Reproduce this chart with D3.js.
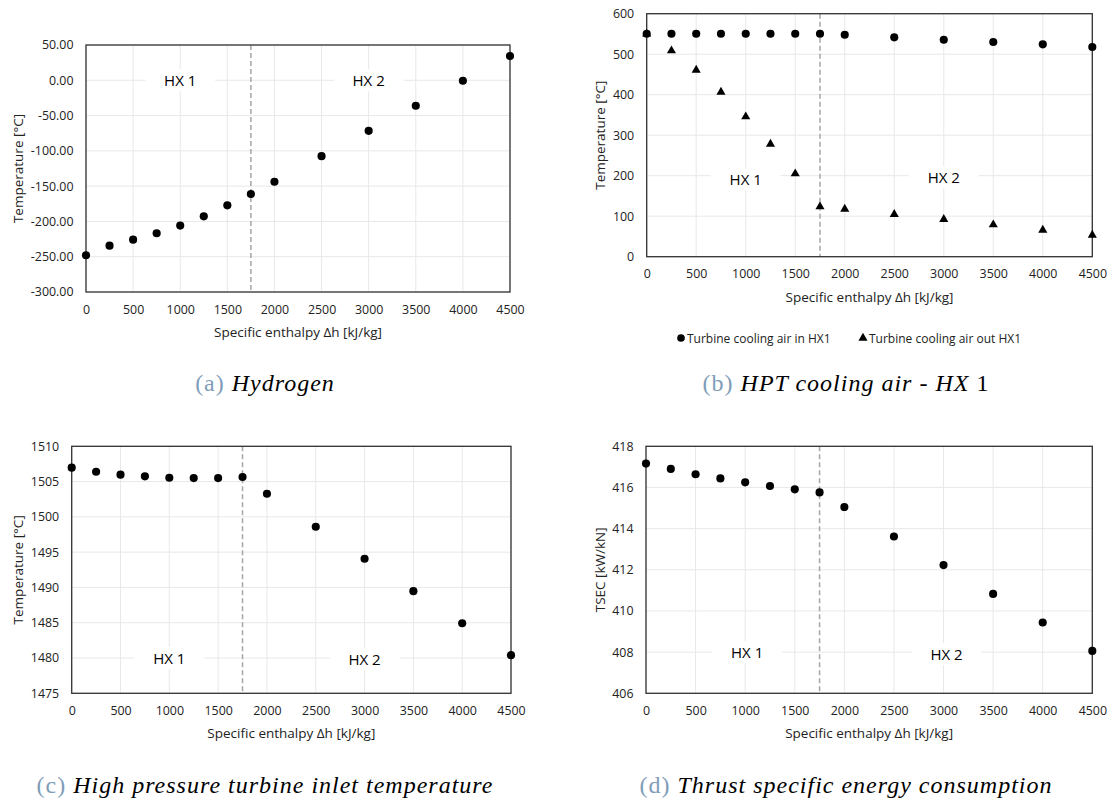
<!DOCTYPE html>
<html>
<head>
<meta charset="utf-8">
<script src="https://cdn.jsdelivr.net/npm/d3@7"></script>
<style>
  body { margin: 0; background: #fff; }
  svg { display: block; }
  .tick text { font-family: "Open Sans", sans-serif; }
</style>
</head>
<body>
<script>
// x values shared by every panel
const enthalpy = [0, 250, 500, 750, 1000, 1250, 1500, 1750, 2000, 2500, 3000, 3500, 4000, 4500];
const xTicks = [0, 500, 1000, 1500, 2000, 2500, 3000, 3500, 4000, 4500];
const hxSplit = 1750;

// (a) hydrogen temperature
const h2Temp = [-248, -234.3, -225.8, -216.8, -205.9, -192.8, -177.2, -161.1, -143.7, -107.5, -71.6, -36.1, -0.6, 34.4];
const h2Ticks = [-300, -250, -200, -150, -100, -50, 0, 50];

// (b) HPT cooling air
const coolIn = [550.6, 550.6, 550.6, 550.6, 550.6, 550.6, 550.6, 550.6, 548, 541.6, 535.8, 530, 524.3, 517.7];
const coolOut = [550, 508.6, 461, 406.6, 345.7, 278, 205, 123.5, 117.7, 104.5, 92.2, 79, 65.8, 53.5];
const coolTicks = [0, 100, 200, 300, 400, 500, 600];
const coolNames = ["Turbine cooling air in HX1", "Turbine cooling air out HX1"];

// (c) HPT inlet temperature
const tit = [1506.97, 1506.4, 1505.98, 1505.74, 1505.55, 1505.5, 1505.5, 1505.65, 1503.28, 1498.6, 1494.06, 1489.47, 1484.93, 1480.4];
const titTicks = [1475, 1480, 1485, 1490, 1495, 1500, 1505, 1510];

// (d) TSEC
const tsec = [417.16, 416.9, 416.64, 416.44, 416.25, 416.07, 415.91, 415.76, 415.05, 413.62, 412.23, 410.83, 409.44, 408.06];
const tsecTicks = [406, 408, 410, 412, 414, 416, 418];

const W = 1112, H = 805;
const svg = d3.select("body").append("svg").attr("width", W).attr("height", H);

const FONT = "'Open Sans', sans-serif";

function panel(opt) {
    var g = svg.append("g");
    var x = d3.scaleLinear().domain([0, 4500]).range([opt.left, opt.right]);
    var y = d3.scaleLinear().domain(opt.yDomain).range([opt.bottom, opt.top]);

    // gridlines
    g.selectAll(".hg").data(opt.yTicks).enter().append("line")
        .attr("x1", opt.left).attr("x2", opt.right)
        .attr("y1", d => y(d)).attr("y2", d => y(d))
        .attr("stroke", "#e8e8e8").attr("stroke-width", 1);
    g.selectAll(".vg").data(xTicks).enter().append("line")
        .attr("x1", d => x(d)).attr("x2", d => x(d))
        .attr("y1", opt.top).attr("y2", opt.bottom)
        .attr("stroke", "#e8e8e8").attr("stroke-width", 1);

    // HX labels with white box
    opt.labels.forEach(function (l) {
        g.append("rect")
            .attr("x", x(l.x) - 35).attr("y", y(l.y) - 11)
            .attr("width", 70).attr("height", 22).attr("fill", "#fff");
        g.append("text")
            .attr("x", x(l.x)).attr("y", y(l.y) + 5.5)
            .attr("text-anchor", "middle")
            .style("font-family", FONT).style("font-size", "15px")
            .attr("fill", "#000").text(l.t);
    });

    // split line
    g.append("line")
        .attr("x1", x(hxSplit)).attr("x2", x(hxSplit))
        .attr("y1", opt.top).attr("y2", opt.bottom)
        .attr("stroke", "#a6a6a6").attr("stroke-width", 1.5)
        .attr("stroke-dasharray", "5,3");

    // axes
    var yAxis = d3.axisLeft(y).tickValues(opt.yTicks).tickSize(0).tickPadding(12.5)
        .tickFormat(opt.fmt);
    var xAxis = d3.axisBottom(x).tickValues(xTicks).tickSize(0).tickPadding(13)
        .tickFormat(d => String(d));
    g.append("g").attr("transform", "translate(" + opt.left + ",0)").call(yAxis)
        .call(s => s.select(".domain").remove())
        .selectAll("text").style("font-size", "12.4px").attr("fill", "#222");
    g.append("g").attr("transform", "translate(0," + opt.bottom + ")").call(xAxis)
        .call(s => s.select(".domain").remove())
        .selectAll("text").style("font-size", "12.4px").attr("fill", "#222");

    // frame
    g.append("rect")
        .attr("x", opt.left).attr("y", opt.top)
        .attr("width", opt.right - opt.left).attr("height", opt.bottom - opt.top)
        .attr("fill", "none").attr("stroke", "#333").attr("stroke-width", 1.3);

    // series
    opt.series.forEach(function (s) {
        g.selectAll(null).data(enthalpy).enter().append("path")
            .attr("transform", (d, i) => "translate(" + x(d) + "," + y(s.values[i]) + ")")
            .attr("d", d3.symbol().type(s.type).size(s.size)())
            .attr("fill", "#000");
    });

    // axis titles
    g.append("text")
        .attr("x", (opt.left + opt.right) / 2).attr("y", opt.bottom + 45)
        .attr("text-anchor", "middle")
        .style("font-family", FONT).style("font-size", "13.5px").attr("fill", "#222")
        .text("Specific enthalpy \u0394h [kJ/kg]");
    g.append("text")
        .attr("transform", "translate(" + opt.yTitleX + "," + (opt.top + opt.bottom) / 2 + ") rotate(-90)")
        .attr("text-anchor", "middle")
        .style("font-family", FONT).style("font-size", "13.5px").attr("fill", "#222")
        .text(opt.yTitle);

    // caption
    var cap = svg.append("text")
        .attr("x", opt.capX).attr("y", opt.capY)
        .attr("text-anchor", "middle")
        .style("font-family", "'Liberation Serif', serif").style("font-size", "24px")
        .style("letter-spacing", "1px");
    cap.append("tspan").attr("fill", "#7f9db9").text(opt.capTag + " ");
    opt.capParts.forEach(function (p) {
        cap.append("tspan").style("font-style", p[1] ? "italic" : "normal").attr("fill", "#000").text(p[0]);
    });

    return { x: x, y: y };
}

panel({
    left: 86, right: 510, top: 45, bottom: 292,
    yDomain: [-300, 50], yTicks: h2Ticks, fmt: d => d.toFixed(2),
    series: [{ values: h2Temp, type: d3.symbolCircle, size: 52 }],
    labels: [{ x: 1000, y: 0, t: "HX 1" }, { x: 3000, y: 0, t: "HX 2" }],
    yTitle: "Temperature [\u00B0C]", yTitleX: 23,
    capX: 265, capY: 391, capTag: "(a)", capParts: [["Hydrogen", true]]
});

panel({
    left: 646.7, right: 1092.3, top: 13.7, bottom: 256.7,
    yDomain: [0, 600], yTicks: coolTicks, fmt: d => String(d),
    series: [{ values: coolOut, type: d3.symbolTriangle, size: 36 },
             { values: coolIn, type: d3.symbolCircle, size: 52 }],
    labels: [{ x: 1000, y: 191, t: "HX 1" }, { x: 3000, y: 196, t: "HX 2" }],
    yTitle: "Temperature [\u00B0C]", yTitleX: 605,
    capX: 846, capY: 391, capTag: "(b)", capParts: [["HPT cooling air - HX", true], [" 1", false]]
});

panel({
    left: 71.7, right: 511, top: 446.3, bottom: 693.3,
    yDomain: [1475, 1510], yTicks: titTicks, fmt: d => String(d),
    series: [{ values: tit, type: d3.symbolCircle, size: 52 }],
    labels: [{ x: 1000, y: 1480, t: "HX 1" }, { x: 3000, y: 1479.8, t: "HX 2" }],
    yTitle: "Temperature [\u00B0C]", yTitleX: 23,
    capX: 265, capY: 793, capTag: "(c)", capParts: [["High pressure turbine inlet temperature", true]]
});

panel({
    left: 646, right: 1092.3, top: 446.3, bottom: 693.3,
    yDomain: [406, 418], yTicks: tsecTicks, fmt: d => String(d),
    series: [{ values: tsec, type: d3.symbolCircle, size: 52 }],
    labels: [{ x: 1020, y: 408, t: "HX 1" }, { x: 3030, y: 407.9, t: "HX 2" }],
    yTitle: "TSEC [kW/kN]", yTitleX: 605,
    capX: 846, capY: 793, capTag: "(d)", capParts: [["Thrust specific energy consumption", true]]
});

// legend for (b)
var legend = svg.append("g");
var legItems = [
    { name: coolNames[0], type: d3.symbolCircle, size: 46, x: 681 },
    { name: coolNames[1], type: d3.symbolTriangle, size: 36, x: 863 }
];
legItems.forEach(function (it) {
    legend.append("path")
        .attr("transform", "translate(" + it.x + ",338)")
        .attr("d", d3.symbol().type(it.type).size(it.size)())
        .attr("fill", "#000");
    legend.append("text")
        .attr("x", it.x + 6).attr("y", 342.5)
        .style("font-family", FONT).style("font-size", "12px").attr("fill", "#222")
        .text(it.name);
});
</script>
</body>
</html>
